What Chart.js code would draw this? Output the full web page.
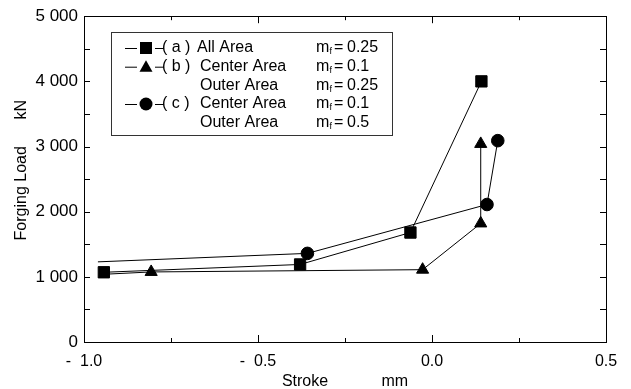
<!DOCTYPE html>
<html><head><meta charset="utf-8">
<script src="https://cdn.jsdelivr.net/npm/chart.js@4.4.1/dist/chart.umd.min.js"></script>
<style>html,body{margin:0;padding:0;background:#fff}</style>
</head><body>
<canvas id="c" width="631" height="389"></canvas>
<script>
// (a) All Area, mf = 0.25
const strokeA = [-0.943, -0.379, -0.062, 0.142];
const loadA   = [1070, 1190, 1680, 4000];
// (b) Center mf = 0.1 / Outer mf = 0.25
const strokeB = [-0.94, -0.807, -0.027, 0.14, 0.14];
const loadB   = [1040, 1075, 1110, 1820, 3040];
// (c) Center mf = 0.1 / Outer mf = 0.5
const strokeC = [-0.96, -0.358, 0.158, 0.189];
const loadC   = [1230, 1360, 2110, 3090];

const xTickLabels = ['-  1.0', '-  0.5', '0.0', '0.5'];
const yTickLabels = ['0', '1 000', '2 000', '3 000', '4 000', '5 000'];

const legendCase = ['( a )', '( b )', '', '( c )', ''];
const legendArea = ['All Area', 'Center Area', 'Outer Area', 'Center Area', 'Outer Area'];
const legendMf   = ['0.25', '0.1', '0.25', '0.1', '0.5'];
const legendMark = ['rect', 'triangle', null, 'circle', null];

const FONT = "'Liberation Sans', Arial, sans-serif";

function pts(xs, ys){ return xs.map((x,i)=>({x, y: ys[i]})); }

function drawMarker(ctx, style, x, y){
  ctx.beginPath();
  if (style === 'rect') { ctx.rect(x-6, y-6, 12, 12); }
  else if (style === 'triangle') { ctx.moveTo(x, y-6.5); ctx.lineTo(x+6.5, y+5); ctx.lineTo(x-6.5, y+5); ctx.closePath(); }
  else if (style === 'circle') { ctx.arc(x, y, 6.5, 0, Math.PI*2); }
  ctx.fill();
}

const frameTicks = {
  id: 'frameTicks',
  beforeDatasetsDraw(chart){
    const {ctx, chartArea: a, scales: {x, y}} = chart;
    ctx.save();
    ctx.strokeStyle = '#000';
    ctx.lineWidth = 1;
    ctx.beginPath();
    for (let v = x.min; v <= x.max + 1e-9; v += 0.25) {
      const px = Math.round(x.getPixelForValue(v)) + 0.5;
      const major = Math.abs(v*2 - Math.round(v*2)) < 1e-6;
      const len = major ? 7 : 4;
      ctx.moveTo(px, a.bottom); ctx.lineTo(px, a.bottom - len);
      ctx.moveTo(px, a.top); ctx.lineTo(px, a.top + len);
    }
    for (let v = y.min; v <= y.max + 1e-9; v += 500) {
      const py = Math.round(y.getPixelForValue(v)) + 0.5;
      ctx.moveTo(a.left, py); ctx.lineTo(a.left + 6, py);
      ctx.moveTo(a.right, py); ctx.lineTo(a.right - 6, py);
    }
    ctx.stroke();
    ctx.strokeRect(Math.round(a.left)+0.5, Math.round(a.top)+0.5, Math.round(a.right-a.left), Math.round(a.bottom-a.top));
    ctx.restore();
  },
  afterDraw(chart){
    const ctx = chart.ctx;
    ctx.save();
    // legend box
    ctx.strokeStyle = '#333';
    ctx.lineWidth = 1;
    ctx.strokeRect(111.5, 32.5, 281, 103);
    const rowY = [48, 66.7, 85.4, 104, 122.7];
    ctx.fillStyle = '#000';
    ctx.textBaseline = 'middle';
    for (let i = 0; i < rowY.length; i++) {
      const yy = rowY[i];
      if (legendMark[i]) {
        ctx.beginPath();
        ctx.moveTo(125, yy+0.5); ctx.lineTo(137, yy+0.5);
        ctx.moveTo(155, yy+0.5); ctx.lineTo(164, yy+0.5);
        ctx.strokeStyle = '#000';
        ctx.stroke();
        drawMarker(ctx, legendMark[i], 146, yy);
      }
      ctx.font = '16px ' + FONT;
      ctx.textAlign = 'left';
      if (legendCase[i]) ctx.fillText(legendCase[i], 162, yy);
      ctx.fillText(legendArea[i], i === 0 ? 197 : 200, yy);
      ctx.fillText('m', 316, yy);
      ctx.font = '9px ' + FONT;
      ctx.fillText('f', 329.5, yy + 4);
      ctx.font = '16px ' + FONT;
      ctx.fillText('=', 334, yy);
      ctx.fillText(legendMf[i], 347, yy);
    }
    ctx.restore();
  }
};

const common = { showLine: true, borderColor: '#000', backgroundColor: '#000', borderWidth: 1, pointBorderWidth: 1, pointBorderColor: '#000', pointBackgroundColor: '#000' };

new Chart(document.getElementById('c'), {
  type: 'scatter',
  data: {
    datasets: [
      Object.assign({ label: '(a)', data: pts(strokeA, loadA), pointStyle: 'rect', pointRadius: 8 }, common),
      Object.assign({ label: '(b)', data: pts(strokeB, loadB), pointStyle: 'triangle', pointRadius: [0, 7, 7, 7, 7] }, common),
      Object.assign({ label: '(c)', data: pts(strokeC, loadC), pointStyle: 'circle', pointRadius: [0, 6.3, 6.3, 6.3] }, common)
    ]
  },
  options: {
    responsive: false,
    animation: false,
    devicePixelRatio: 1,
    layout: { padding: { left: 0, right: 25, top: 16, bottom: 0 } },
    plugins: { legend: { display: false }, tooltip: { enabled: false } },
    elements: { line: { tension: 0 } },
    scales: {
      x: {
        type: 'linear', min: -1, max: 0.5,
        afterFit(s){ s.height = 47; },
        border: { display: false },
        grid: { display: false, drawTicks: false },
        ticks: {
          stepSize: 0.5, padding: 10, color: '#000', font: { size: 16, family: FONT },
          maxRotation: 0,
          callback(v, i){ return xTickLabels[i]; }
        },
        title: { display: true, text: 'Stroke            mm', color: '#000', font: { size: 16, family: FONT }, padding: { top: 0, bottom: -2 } }
      },
      y: {
        type: 'linear', min: 0, max: 5000,
        afterFit(s){ s.width = 84; },
        border: { display: false },
        grid: { display: false, drawTicks: false },
        ticks: {
          stepSize: 1000, padding: 6, color: '#000', font: { size: 17, family: FONT },
          callback(v, i){ return yTickLabels[i]; }
        },
        title: { display: true, text: '    Forging Load      kN', color: '#000', font: { size: 16, family: FONT }, padding: { top: 12, bottom: 0 } }
      }
    }
  },
  plugins: [frameTicks]
});
</script>
</body></html>
